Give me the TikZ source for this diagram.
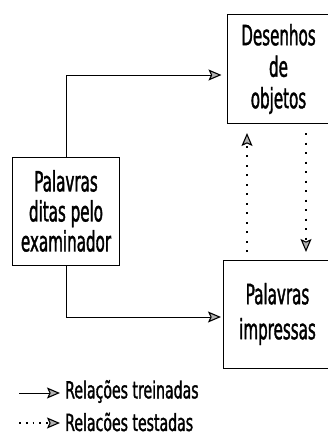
\documentclass[tikz,border=0pt]{standalone}
\usepackage{fontspec}
\usetikzlibrary{arrows.meta}
\newfontfamily\dfont[FakeStretch=0.54,FakeBold=1.3]{DejaVu Sans}
\newfontfamily\lfont[FakeStretch=0.6,FakeBold=1.3]{DejaVu Sans}
\begin{document}
\begin{tikzpicture}[x=1pt,y=-1pt,
  box/.style={draw,line width=1pt,inner sep=0pt,align=center},
  tip/.style={-{Stealth[length=13pt,width=11pt,inset=2.5pt,fill=gray!60,line width=1.1pt]}},
  train/.style={tip,line width=1pt},
  tested/.style={tip,line width=1.4pt,dash pattern=on 2pt off 7.5pt},
  legtext/.style={anchor=west,inner sep=0pt,font=\lfont\fontsize{23.5}{26}\selectfont}]
\useasboundingbox (0,0) rectangle (328,436);
\node[box,minimum width=103pt,minimum height=108pt,font=\dfont\fontsize{28}{31.5}\selectfont] (tb) at (278.5,69) {Desenhos\\de\\objetos};
\node[box,minimum width=107pt,minimum height=108pt,font=\dfont\fontsize{28}{30}\selectfont] (lb) at (66,211) {Palavras\\ditas pelo\\examinador};
\node[box,minimum width=109pt,minimum height=108pt,font=\dfont\fontsize{28}{35}\selectfont] (bb) at (277.5,314) {Palavras\\impressas};
\draw[train,shorten >=5pt] (lb.north) |- ([yshift=-6pt]tb.west);
\draw[train,shorten >=1.5pt] (lb.south) |- ([yshift=-3pt]bb.west);
\coordinate (ua) at (247,252);
\coordinate (ub) at (247,133);
\coordinate (da) at (306,133);
\coordinate (db) at (306,252);
\draw[tested] (ua) -- (ub);
\draw[tested] (da) -- (db);
\coordinate (l1a) at (19,393);
\coordinate (l1b) at (60,393);
\coordinate (l2a) at (19,423);
\coordinate (l2b) at (60,423);
\draw[train] (l1a) -- (l1b);
\draw[tested,dash pattern=on 1.8pt off 5pt] (l2a) -- (l2b);
\node[legtext] (t1) at (65,391.5) {Relações treinadas};
\node[legtext] (t2) at (65,422) {Relacões testadas};
\end{tikzpicture}
\end{document}
